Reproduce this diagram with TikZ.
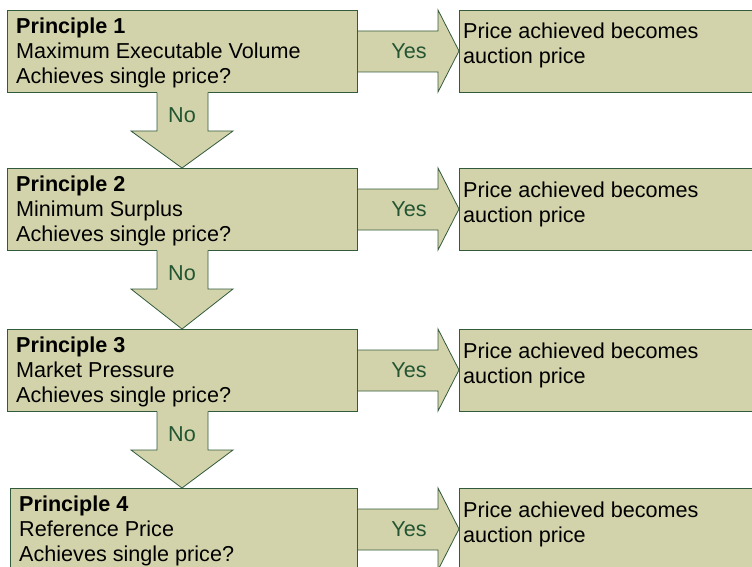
\documentclass[tikz,border=0pt]{standalone}
\usepackage{fontspec}
\setmainfont{Liberation Sans}
\definecolor{boxfill}{RGB}{211,211,171}
\definecolor{edgecol}{RGB}{50,90,60}
\definecolor{lblcol}{RGB}{35,85,50}
\begin{document}
\begin{tikzpicture}[x=1pt,y=-1pt,
  shapestyle/.style={fill=boxfill,draw=edgecol,line width=0.8pt,line join=miter},
  boxstyle/.style={shapestyle,anchor=north west,inner sep=0pt,minimum height=82pt},
  txt/.style={inner sep=0pt,anchor=base west,font=\fontsize{21.6}{25}\selectfont},
  lab/.style={inner sep=0pt,text=lblcol,font=\fontsize{21.6}{25}\selectfont}]
\useasboundingbox (0,0) rectangle (752,567);
\foreach \T/\L/\n/\name in {10/7/1/Maximum Executable Volume, 168/7/2/Minimum Surplus, 329/7/3/Market Pressure, 488/10/4/Reference Price}{
  % yes arrow
  \path[shapestyle] (357,\T+21) -- (438,\T+21) -- (438,\T) -- (459,\T+41) -- (438,\T+82) -- (438,\T+62) -- (357,\T+62) -- cycle;
  \node[boxstyle,minimum width={357-\L}] (box\n) at (\L,\T) {};
  \node[boxstyle,minimum width=300pt] (res\n) at (459,\T) {};
  \node[txt] (h\n) at (\L+9,\T+23.5) {\bfseries Principle \n};
  \node[txt] (m\n) at (\L+9,\T+48.5) {\name};
  \node[txt] (q\n) at (\L+9,\T+73.5) {Achieves single price?};
  \node[txt] (ra\n) at (463,\T+29) {Price achieved becomes};
  \node[txt] (rb\n) at (463,\T+54) {auction price};
  \node[lab] (yes\n) at (409,\T+41) {Yes};
}
\foreach \B/\N/\k in {92/168/1, 250/329/2, 411/488/3}{
  \fill[boxfill] (157,\B-1) -- (157,\B+39) -- (131,\B+39) -- (182,\N) -- (233,\B+39) -- (208,\B+39) -- (208,\B-1) -- cycle;
  \draw[edgecol,line width=0.8pt,line join=miter] (157,\B+0.4) -- (157,\B+39) -- (131,\B+39) -- (182,\N) -- (233,\B+39) -- (208,\B+39) -- (208,\B+0.4);
  \node[lab] (no\k) at (182,\B+23) {No};
}
\end{tikzpicture}
\end{document}
